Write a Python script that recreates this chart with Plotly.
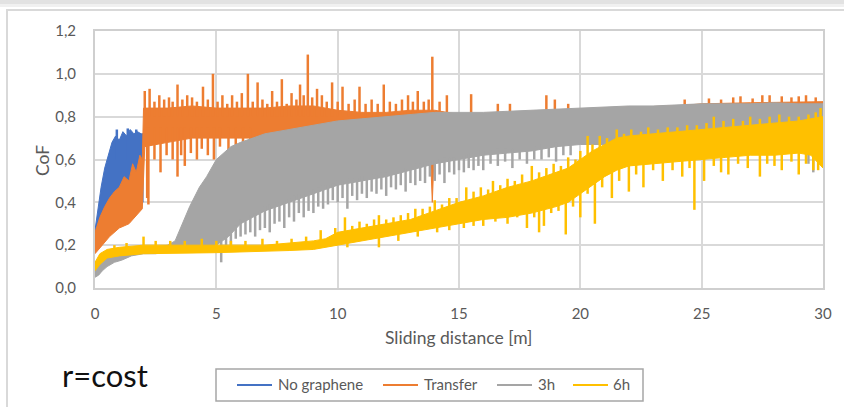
import plotly.graph_objects as go

# ---------------- data ----------------
series_names = ["No graphene", "Transfer", "3h", "6h"]
series_colors = ["#4472C4", "#ED7D31", "#A5A5A5", "#FFC000"]

# Each noisy CoF trace = solid core band (upper / lower envelope) + visible streaks
# given as (distance, from CoF, to CoF).

# ---- No graphene
ng_hi_x = [0, 0.1, 0.25, 0.4, 0.55, 0.7, 0.85, 1.0, 1.15, 1.3, 1.45, 1.6, 1.75, 1.9, 1.98]
ng_hi_y = [0.27, 0.36, 0.47, 0.56, 0.62, 0.68, 0.71, 0.69, 0.73, 0.71, 0.74, 0.72, 0.73, 0.72, 0.72]
ng_lo_x = [0, 1.0, 1.98]
ng_lo_y = [0.20, 0.30, 0.40]
ng_streaks = [(0.9, 0.6, 0.74), (1.35, 0.6, 0.745), (1.7, 0.6, 0.74)]

# ---- Transfer
tr_hi_x = [0, 0.2, 0.4, 0.6, 0.8, 1.0, 1.2, 1.4, 1.55, 1.7, 1.85, 1.95, 2.0, 3, 4, 5, 6, 7, 8, 9, 10,
           11, 12, 13, 14, 15, 17, 20, 22, 24, 25, 27, 30]
tr_hi_y = [0.26, 0.33, 0.38, 0.42, 0.45, 0.47, 0.52, 0.50, 0.58, 0.54, 0.62, 0.60, 0.84, 0.84, 0.85, 0.84, 0.84,
           0.84, 0.85, 0.85, 0.83, 0.82, 0.82, 0.83, 0.83, 0.81, 0.82, 0.835, 0.845, 0.85, 0.86, 0.865, 0.87]
tr_lo_x = [0, 0.3, 0.6, 1.0, 1.4, 1.7, 1.95, 2.05, 3.0, 4.0, 7.0, 13.8, 13.9, 14.0, 30.0]
tr_lo_y = [0.16, 0.20, 0.24, 0.28, 0.30, 0.34, 0.37, 0.66, 0.68, 0.70, 0.70, 0.70, 0.40, 0.70, 0.70]
tr_streaks = [
    (2.05, 0.8, 0.92), (2.25, 0.8, 0.93), (2.45, 0.8, 0.87), (2.65, 0.8, 0.90), (2.85, 0.8, 0.88),
    (3.05, 0.8, 0.89), (3.2, 0.8, 0.87), (3.4, 0.8, 0.95), (3.6, 0.8, 0.88), (3.8, 0.8, 0.90),
    (4.0, 0.8, 0.89), (4.2, 0.8, 0.87), (4.45, 0.8, 0.94), (4.65, 0.8, 0.88), (4.86, 0.8, 1.00),
    (5.05, 0.8, 0.87), (5.25, 0.8, 0.90), (5.45, 0.8, 0.86), (5.65, 0.8, 0.90), (5.85, 0.8, 0.87),
    (6.05, 0.8, 0.91), (6.3, 0.8, 1.00), (6.5, 0.8, 0.87), (6.7, 0.8, 0.96), (6.9, 0.8, 0.88),
    (7.1, 0.8, 0.86), (7.3, 0.8, 0.92), (7.5, 0.8, 0.87), (7.7, 0.8, 0.975), (7.9, 0.8, 0.86),
    (8.1, 0.8, 0.91), (8.3, 0.8, 0.88), (8.45, 0.8, 0.95), (8.6, 0.8, 0.90), (8.77, 0.8, 1.09),
    (8.95, 0.8, 0.89), (9.15, 0.8, 0.93), (9.35, 0.8, 0.90), (9.55, 0.8, 0.87), (9.77, 0.8, 0.96),
    (10.0, 0.8, 0.87), (10.2, 0.8, 0.94), (10.45, 0.8, 0.86), (10.7, 0.8, 0.88), (10.9, 0.8, 0.94),
    (11.15, 0.8, 0.86), (11.4, 0.8, 0.88), (11.65, 0.8, 0.86), (11.9, 0.8, 0.95), (12.15, 0.8, 0.87),
    (12.4, 0.8, 0.86), (12.65, 0.8, 0.88), (12.9, 0.8, 0.90), (13.1, 0.8, 0.87), (13.3, 0.8, 0.92),
    (13.55, 0.8, 0.87), (13.75, 0.8, 0.88), (13.9, 0.8, 1.08), (14.2, 0.8, 0.87), (14.5, 0.8, 0.90),
    (15.5, 0.8, 0.905), (16.6, 0.8, 0.86), (17.1, 0.8, 0.86), (18.6, 0.8, 0.90), (18.95, 0.8, 0.88),
    (19.5, 0.8, 0.86), (24.3, 0.8, 0.88), (25.3, 0.8, 0.885), (25.8, 0.8, 0.88), (26.3, 0.8, 0.89),
    (26.6, 0.8, 0.895), (27.1, 0.8, 0.885), (27.5, 0.8, 0.90), (27.8, 0.8, 0.90), (28.3, 0.8, 0.895),
    (28.7, 0.8, 0.89), (29.0, 0.8, 0.895), (29.3, 0.8, 0.90), (29.7, 0.8, 0.89),
    (2.15, 0.75, 0.42), (2.2, 0.75, 0.39), (2.45, 0.75, 0.60), (2.7, 0.75, 0.54), (2.95, 0.75, 0.62),
    (3.2, 0.75, 0.60), (3.4, 0.75, 0.52), (3.55, 0.75, 0.62), (3.7, 0.75, 0.57), (3.95, 0.75, 0.63),
    (4.2, 0.75, 0.60), (4.4, 0.75, 0.65), (4.65, 0.75, 0.62), (4.9, 0.75, 0.60), (5.15, 0.75, 0.66),
    (5.5, 0.75, 0.60), (5.8, 0.75, 0.63), (6.1, 0.75, 0.63), (6.4, 0.75, 0.66),
]

# ---- 3h
h3_hi_x = [0, 0.5, 1.0, 1.5, 2.0, 2.5, 3.0, 3.3, 3.6, 3.9, 4.3, 4.6, 5.0, 5.3, 5.6, 6.0, 6.5, 7.0,
           7.5, 8.0, 8.5, 9.0, 9.5, 10, 11, 12, 13, 14, 15, 16, 17, 18, 19, 20, 21, 22, 23, 24, 25,
           26, 27, 28, 29, 30]
h3_hi_y = [0.09, 0.14, 0.17, 0.18, 0.19, 0.19, 0.20, 0.22, 0.30, 0.38, 0.47, 0.52, 0.60, 0.63, 0.66, 0.68, 0.70, 0.72,
           0.73, 0.74, 0.75, 0.76, 0.77, 0.78, 0.79, 0.80, 0.81, 0.82, 0.82, 0.82, 0.825, 0.83, 0.835, 0.84, 0.845, 0.85,
           0.85, 0.855, 0.86, 0.86, 0.86, 0.865, 0.86, 0.86]
h3_lo_x = [0, 0.15, 0.3, 0.5, 0.8, 1.1, 1.5, 2.0, 2.5, 3.0, 3.5, 4.0, 4.5, 5.0, 5.5, 6.0, 6.5, 7.0,
           7.5, 8.0, 8.5, 9.0, 9.5, 10, 11, 12, 13, 14, 15, 16, 17, 18, 19, 20, 21, 22, 24, 26, 28,
           29.3, 29.6, 30.0]
h3_lo_y = [0.05, 0.06, 0.08, 0.10, 0.12, 0.13, 0.15, 0.16, 0.16, 0.17, 0.17, 0.18, 0.18, 0.20, 0.24, 0.30, 0.33, 0.36,
           0.38, 0.40, 0.42, 0.44, 0.46, 0.48, 0.50, 0.52, 0.55, 0.58, 0.60, 0.62, 0.63, 0.64, 0.66, 0.67, 0.67, 0.68,
           0.69, 0.70, 0.70, 0.70, 0.62, 0.62]
h3_streaks = [
    (5.2, 0.22, 0.12), (5.4, 0.24, 0.20), (5.6, 0.26, 0.20), (5.8, 0.29, 0.23), (6.0, 0.32, 0.24),
    (6.2, 0.33, 0.25), (6.4, 0.34, 0.26), (6.6, 0.35, 0.24), (6.8, 0.36, 0.27), (7.0, 0.38, 0.28),
    (7.2, 0.39, 0.26), (7.4, 0.40, 0.30), (7.6, 0.40, 0.31), (7.8, 0.41, 0.28), (8.0, 0.42, 0.33),
    (8.2, 0.43, 0.31), (8.4, 0.44, 0.35), (8.6, 0.44, 0.33), (8.8, 0.45, 0.36), (9.0, 0.46, 0.35),
    (9.2, 0.47, 0.38), (9.4, 0.48, 0.37), (9.6, 0.48, 0.39), (9.8, 0.49, 0.41), (10.0, 0.50, 0.40),
    (10.2, 0.50, 0.42), (10.4, 0.51, 0.37), (10.6, 0.51, 0.43), (10.8, 0.51, 0.41), (11.0, 0.52, 0.44),
    (11.2, 0.52, 0.42), (11.4, 0.53, 0.45), (11.6, 0.53, 0.44), (11.8, 0.54, 0.46), (12.0, 0.54, 0.43),
    (12.2, 0.55, 0.47), (12.4, 0.55, 0.46), (12.6, 0.56, 0.48), (12.8, 0.56, 0.45), (13.0, 0.57, 0.49),
    (13.2, 0.58, 0.48), (13.4, 0.58, 0.50), (13.6, 0.59, 0.49), (13.8, 0.59, 0.52), (14.0, 0.60, 0.50),
    (14.2, 0.60, 0.53), (14.4, 0.61, 0.49), (14.6, 0.61, 0.54), (14.8, 0.61, 0.53), (15.0, 0.62, 0.55),
    (15.2, 0.62, 0.54), (15.4, 0.63, 0.56), (15.6, 0.63, 0.55), (15.8, 0.64, 0.57), (16.0, 0.64, 0.55),
    (16.3, 0.64, 0.58), (16.6, 0.65, 0.57), (16.9, 0.65, 0.59), (17.2, 0.65, 0.56), (17.5, 0.66, 0.60),
    (17.8, 0.66, 0.58), (18.1, 0.66, 0.60), (18.4, 0.67, 0.60), (18.7, 0.67, 0.61), (19.0, 0.68, 0.59),
    (19.3, 0.68, 0.62), (19.6, 0.69, 0.62), (29.4, 0.72, 0.58), (29.6, 0.72, 0.54),
]

# ---- 6h
h6_hi_x = [0, 0.2, 0.5, 1, 2, 3, 5, 7, 8, 9, 9.5, 10, 11, 12, 13, 14, 15, 16, 17, 18, 19, 19.5, 20,
           20.5, 21, 21.5, 22, 23, 24, 25, 26, 27, 28, 29, 30]
h6_hi_y = [0.12, 0.16, 0.18, 0.19, 0.20, 0.20, 0.20, 0.20, 0.21, 0.22, 0.23, 0.26, 0.28, 0.30, 0.32, 0.36, 0.40,
           0.43, 0.47, 0.50, 0.54, 0.56, 0.60, 0.64, 0.67, 0.70, 0.71, 0.72, 0.73, 0.74, 0.75, 0.76, 0.77,
           0.78, 0.80]
h6_lo_x = [0, 0.2, 0.5, 1, 2, 5, 8, 9, 10, 11, 12, 13, 14, 15, 16, 17, 18, 19, 19.5, 20, 20.5, 21,
           21.5, 22, 23, 24, 25, 26, 27, 28, 29, 29.5, 30]
h6_lo_y = [0.08, 0.11, 0.14, 0.15, 0.16, 0.165, 0.175, 0.18, 0.20, 0.22, 0.24, 0.26, 0.28, 0.30, 0.32, 0.33,
           0.35, 0.38, 0.40, 0.44, 0.48, 0.52, 0.55, 0.57, 0.58, 0.59, 0.60, 0.61, 0.62, 0.62, 0.63, 0.62, 0.56]
h6_streaks = [
    (0.8, 0.18, 0.20), (1.3, 0.18, 0.21), (2.0, 0.19, 0.24), (2.5, 0.19, 0.22), (3.1, 0.19, 0.22),
    (3.7, 0.19, 0.22), (4.4, 0.19, 0.23), (5.0, 0.19, 0.22), (5.6, 0.19, 0.22), (6.2, 0.19, 0.22),
    (6.9, 0.19, 0.23), (7.5, 0.19, 0.22), (8.1, 0.20, 0.23), (8.7, 0.20, 0.24), (9.3, 0.21, 0.27),
    (9.9, 0.23, 0.28), (10.3, 0.24, 0.33), (10.6, 0.25, 0.29), (10.9, 0.26, 0.31), (11.2, 0.26, 0.30),
    (11.5, 0.27, 0.32), (11.7, 0.27, 0.34), (12.0, 0.28, 0.32), (12.3, 0.28, 0.33), (12.6, 0.29, 0.34),
    (12.9, 0.30, 0.35), (13.2, 0.30, 0.37), (13.5, 0.32, 0.37), (13.8, 0.33, 0.38), (14.0, 0.34, 0.41),
    (14.3, 0.35, 0.39), (14.6, 0.37, 0.42), (14.9, 0.38, 0.42), (15.3, 0.39, 0.47), (15.6, 0.40, 0.45),
    (15.9, 0.41, 0.47), (16.2, 0.42, 0.46), (16.4, 0.42, 0.50), (16.7, 0.44, 0.48), (17.0, 0.45, 0.51),
    (17.3, 0.46, 0.50), (17.6, 0.47, 0.53), (18.0, 0.48, 0.57), (18.3, 0.49, 0.54), (18.6, 0.50, 0.56),
    (18.9, 0.52, 0.58), (19.2, 0.53, 0.57), (19.5, 0.54, 0.61), (19.8, 0.56, 0.60), (20.0, 0.58, 0.64),
    (20.3, 0.60, 0.71), (20.5, 0.62, 0.67), (20.8, 0.64, 0.71), (21.1, 0.65, 0.70), (21.5, 0.68, 0.74),
    (21.8, 0.69, 0.72), (22.1, 0.69, 0.74), (22.5, 0.69, 0.73), (22.8, 0.70, 0.75), (23.2, 0.70, 0.74),
    (23.6, 0.71, 0.75), (24.0, 0.71, 0.75), (24.4, 0.71, 0.76), (24.8, 0.72, 0.76), (25.2, 0.72, 0.77),
    (25.5, 0.72, 0.80), (25.9, 0.73, 0.78), (26.3, 0.73, 0.79), (26.7, 0.74, 0.78), (27.0, 0.74, 0.80),
    (27.4, 0.74, 0.79), (27.8, 0.75, 0.80), (28.2, 0.75, 0.81), (28.6, 0.75, 0.80), (29.0, 0.76, 0.80),
    (29.4, 0.76, 0.81), (29.7, 0.77, 0.82), (29.9, 0.78, 0.84),
    (10.4, 0.22, 0.19), (11.7, 0.25, 0.19), (12.5, 0.26, 0.22), (13.3, 0.28, 0.24), (14.1, 0.30, 0.26),
    (14.6, 0.31, 0.27), (15.2, 0.32, 0.28), (15.6, 0.33, 0.29), (16.0, 0.34, 0.29), (16.5, 0.34, 0.31),
    (17.0, 0.35, 0.30), (17.4, 0.36, 0.33), (17.8, 0.37, 0.28), (18.1, 0.38, 0.33), (18.3, 0.38, 0.26),
    (18.5, 0.39, 0.29), (18.8, 0.40, 0.35), (19.1, 0.41, 0.36), (19.4, 0.42, 0.25), (19.7, 0.44, 0.38),
    (20.0, 0.47, 0.33), (20.3, 0.49, 0.44), (20.6, 0.51, 0.30), (20.9, 0.53, 0.47), (21.3, 0.56, 0.42),
    (21.6, 0.57, 0.50), (22.0, 0.59, 0.45), (22.3, 0.59, 0.53), (22.6, 0.60, 0.47), (23.0, 0.60, 0.55),
    (23.4, 0.61, 0.50), (23.8, 0.61, 0.55), (24.2, 0.61, 0.52), (24.5, 0.62, 0.56), (24.7, 0.62, 0.365),
    (25.1, 0.62, 0.50), (25.5, 0.63, 0.57), (25.8, 0.63, 0.54), (26.1, 0.63, 0.53), (26.5, 0.64, 0.58),
    (26.9, 0.64, 0.56), (27.4, 0.64, 0.52), (27.7, 0.64, 0.58), (28.0, 0.64, 0.57), (28.3, 0.65, 0.55),
    (28.7, 0.65, 0.59), (29.0, 0.65, 0.53), (29.3, 0.65, 0.58), (29.6, 0.65, 0.55), (29.8, 0.63, 0.55),
]

x_ticks = [0, 5, 10, 15, 20, 25, 30]
y_ticks = [0.0, 0.2, 0.4, 0.6, 0.8, 1.0, 1.2]
x_title = "Sliding distance [m]"
y_title = "CoF"
note_text = "r=cost"

# ---------------- figure ----------------
FONT = "Lato, 'Open Sans', sans-serif"
TXT = "#595959"

envelopes = [
    (ng_hi_x, ng_hi_y, ng_lo_x, ng_lo_y),
    (tr_hi_x, tr_hi_y, tr_lo_x, tr_lo_y),
    (h3_hi_x, h3_hi_y, h3_lo_x, h3_lo_y),
    (h6_hi_x, h6_hi_y, h6_lo_x, h6_lo_y),
]
streaks = [ng_streaks, tr_streaks, h3_streaks, h6_streaks]

fig = go.Figure()
for (hx, hy, lx, ly), st, name, col in zip(envelopes, streaks, series_names, series_colors):
    fig.add_trace(go.Scatter(
        x=list(hx) + list(lx)[::-1],
        y=list(hy) + list(ly)[::-1],
        mode="lines", fill="toself", fillcolor=col,
        line=dict(color=col, width=1),
        showlegend=False, hoverinfo="skip", name=name,
    ))
    xs, ys = [], []
    for a, b, c in st:
        xs += [a, a, None]
        ys += [b, c, None]
    fig.add_trace(go.Scatter(x=xs, y=ys, mode="lines", line=dict(color=col, width=2.5),
                             showlegend=False, hoverinfo="skip", name=name))

W, H = 844, 407
L, R, T, B = 95, 21, 31, 119
pw, ph = W - L - R, H - T - B


def px(xp):
    return (xp - L) / pw


def py(yp):
    return (H - B - yp) / ph


# legend drawn as a boxed row under the plot (positions in page pixels)
leg_box = (216, 643, 369, 401)
leg_line_x0 = [237, 383, 497, 573]
leg_line_len = 35
leg_text_x = [276, 422, 536, 611]
leg_y = 385

annotations = [
    dict(text=x_title, xref="paper", yref="paper", x=px(458), y=py(337), showarrow=False,
         font=dict(size=17.5, color=TXT), xanchor="center", yanchor="middle"),
    dict(text=y_title, xref="paper", yref="paper", x=px(42), y=py(160), showarrow=False,
         textangle=-90, font=dict(size=17.5, color=TXT), xanchor="center", yanchor="middle"),
    dict(text=note_text, xref="paper", yref="paper", x=px(60), y=py(375), showarrow=False,
         font=dict(size=31, color="#111111"), xanchor="left", yanchor="middle"),
]
shapes = [
    dict(type="rect", xref="paper", yref="paper", x0=px(0), x1=px(844), y0=py(0), y1=py(4),
         fillcolor="#E2E2E2", line=dict(width=0), layer="below"),
    dict(type="rect", xref="paper", yref="paper", x0=px(0), x1=px(844), y0=py(4), y1=py(7),
         fillcolor="#F0F0F0", line=dict(width=0), layer="below"),
    dict(type="rect", xref="paper", yref="paper", x0=px(7), x1=px(860), y0=py(10), y1=py(430),
         fillcolor="rgba(0,0,0,0)", line=dict(color="#D9D9D9", width=2), layer="below"),
    dict(type="rect", xref="paper", yref="paper", x0=px(leg_box[0]), x1=px(leg_box[1]),
         y0=py(leg_box[2]), y1=py(leg_box[3]), fillcolor="white",
         line=dict(color="#A6A6A6", width=1.5)),
]
for name, col, lx0, tx in zip(series_names, series_colors, leg_line_x0, leg_text_x):
    shapes.append(dict(type="line", xref="paper", yref="paper", x0=px(lx0), x1=px(lx0 + leg_line_len),
                       y0=py(leg_y), y1=py(leg_y), line=dict(color=col, width=2)))
    annotations.append(dict(text=name, xref="paper", yref="paper", x=px(tx), y=py(leg_y - 1),
                            showarrow=False, xanchor="left", yanchor="middle",
                            font=dict(size=15, color=TXT)))

fig.update_layout(
    width=W, height=H,
    margin=dict(l=L, r=R, t=T, b=B),
    paper_bgcolor="white", plot_bgcolor="white",
    separators=", ",
    showlegend=False,
    font=dict(family=FONT, size=15, color=TXT),
    xaxis=dict(range=[0, 30], tickvals=x_ticks, showgrid=True, gridcolor="#D9D9D9", gridwidth=2,
               showline=True, linecolor="#CFCFCF", linewidth=2, mirror=True, zeroline=False,
               ticks="", ticklabelstandoff=11, tickfont=dict(size=15, color=TXT)),
    yaxis=dict(range=[0, 1.2], tickvals=y_ticks, tickformat=".1f", showgrid=True, gridcolor="#D9D9D9",
               gridwidth=2, showline=True, linecolor="#CFCFCF", linewidth=2, mirror=True,
               zeroline=False, ticks="", ticklabelstandoff=14, tickfont=dict(size=15, color=TXT)),
    annotations=annotations,
    shapes=shapes,
)

fig.write_html("out.html")
